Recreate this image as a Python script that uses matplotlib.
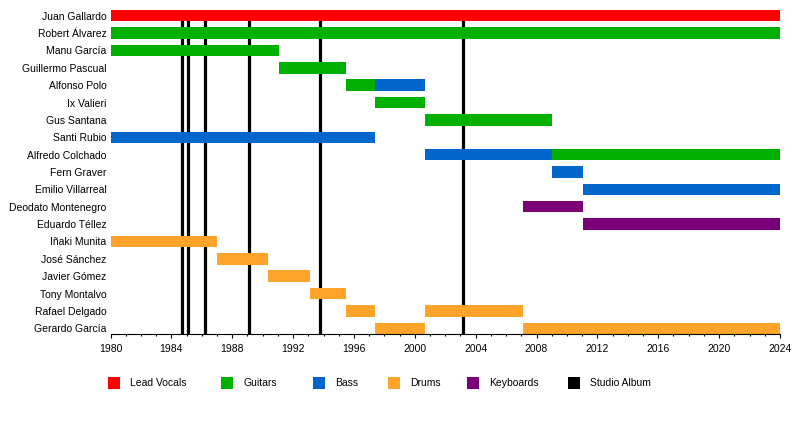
import matplotlib.pyplot as plt
from matplotlib.patches import Rectangle
from matplotlib.ticker import MultipleLocator

plt.rcParams['font.family'] = ['Liberation Sans', 'DejaVu Sans']

# --- Datos ---
members = ['Juan Gallardo', 'Robert Álvarez', 'Manu García', 'Guillermo Pascual',
           'Alfonso Polo', 'Ix Valieri', 'Gus Santana', 'Santi Rubio',
           'Alfredo Colchado', 'Fern Graver', 'Emilio Villarreal',
           'Deodato Montenegro', 'Eduardo Téllez', 'Iñaki Munita',
           'José Sánchez', 'Javier Gómez', 'Tony Montalvo', 'Rafael Delgado',
           'Gerardo García']

roles = ['Lead Vocals', 'Guitars', 'Bass', 'Drums', 'Keyboards']
role_colors = ['#ff0000', '#00b000', '#0066cc', '#ffa32a', '#7a0078']

# periodos: miembro, rol, inicio, fin
bar_member = ['Juan Gallardo', 'Robert Álvarez', 'Manu García', 'Guillermo Pascual',
              'Alfonso Polo', 'Alfonso Polo', 'Ix Valieri', 'Gus Santana',
              'Santi Rubio', 'Alfredo Colchado', 'Alfredo Colchado', 'Fern Graver',
              'Emilio Villarreal', 'Deodato Montenegro', 'Eduardo Téllez',
              'Iñaki Munita', 'José Sánchez', 'Javier Gómez', 'Tony Montalvo',
              'Rafael Delgado', 'Rafael Delgado', 'Gerardo García', 'Gerardo García']
bar_role = ['Lead Vocals', 'Guitars', 'Guitars', 'Guitars',
            'Guitars', 'Bass', 'Guitars', 'Guitars',
            'Bass', 'Bass', 'Guitars', 'Bass',
            'Bass', 'Keyboards', 'Keyboards',
            'Drums', 'Drums', 'Drums', 'Drums',
            'Drums', 'Drums', 'Drums', 'Drums']
bar_start = [1980, 1980, 1980, 1991.1,
             1995.45, 1997.4, 1997.4, 2000.7,
             1980, 2000.7, 2009.0, 2009.0,
             2011.05, 2007.1, 2011.05,
             1980, 1987.0, 1990.35, 1993.1,
             1995.45, 2000.7, 1997.4, 2007.1]
bar_end = [2024, 2024, 1991.1, 1995.45,
           1997.4, 2000.7, 2000.7, 2009.0,
           1997.4, 2009.0, 2024, 2011.05,
           2024, 2011.05, 2024,
           1987.0, 1990.35, 1993.1, 1995.45,
           1997.4, 2007.1, 2000.7, 2024]

albums = [1984.72, 1985.11, 1986.23, 1989.12, 1993.79, 2003.19]

legend_labels = roles + ['Studio Album']
legend_colors = role_colors + ['black']

# --- Figura ---
W, H = 800, 434
fig = plt.figure(figsize=(8, 4.34), dpi=100)
ax = fig.add_axes([110.5 / W, 1 - 334 / H, 669.5 / W, 324 / H])

for yr in albums:
    ax.axvline(yr, color='black', linewidth=2.3, zorder=1)

for m, r, s, e in zip(bar_member, bar_role, bar_start, bar_end):
    ax.barh(members.index(m), e - s, left=s, height=0.66,
            color=role_colors[roles.index(r)], linewidth=0, zorder=2)

ax.set_xlim(1980, 2024)
ax.set_ylim(len(members) - 1 + 0.33, -0.33)
ax.set_yticks(range(len(members)))
ax.set_yticklabels(members, fontsize=7.5)
ax.tick_params(axis='y', length=0, pad=3)

ax.xaxis.set_major_locator(MultipleLocator(4))
ax.xaxis.set_minor_locator(MultipleLocator(1))
ax.tick_params(axis='x', which='major', length=3, width=0.8, labelsize=7.5, pad=4.5)
ax.tick_params(axis='x', which='minor', length=1.5, width=0.8)

for side in ['top', 'right', 'left']:
    ax.spines[side].set_visible(False)
ax.spines['bottom'].set_linewidth(0.8)

# --- Leyenda (colocada a mano) ---
legend_x = [108, 221, 313, 388, 467, 568]
for x, lab, col in zip(legend_x, legend_labels, legend_colors):
    fig.patches.append(Rectangle((x / W, 1 - 389 / H), 12 / W, 12 / H,
                                 transform=fig.transFigure, facecolor=col,
                                 edgecolor='none'))
    fig.text((x + 22) / W, 1 - 383.5 / H, lab, fontsize=7.5, va='center', ha='left')

fig.savefig('out.png', dpi=100)
